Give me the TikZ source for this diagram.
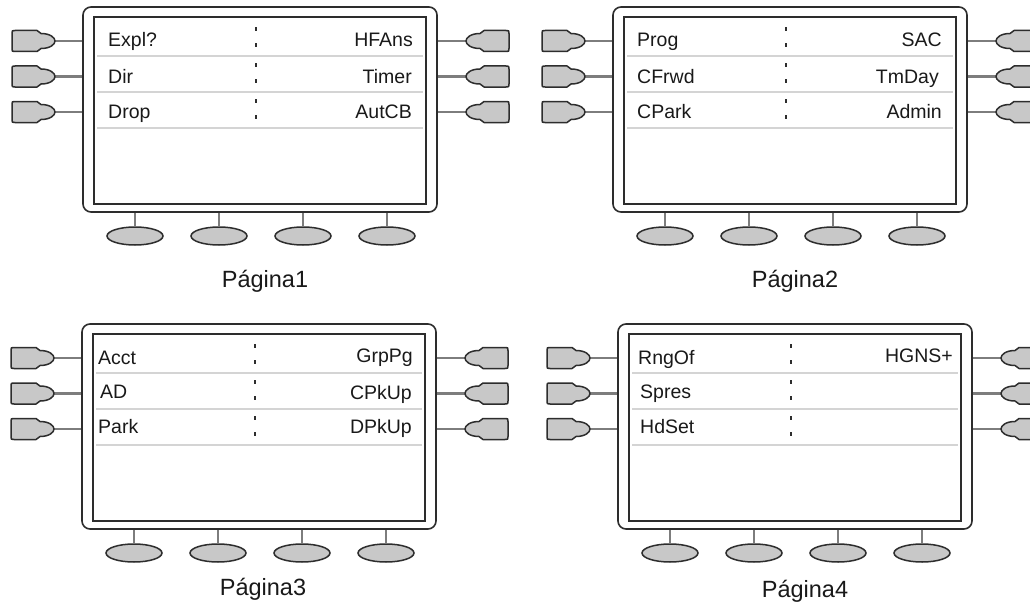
\documentclass[tikz,border=0pt]{standalone}
\usepackage{fontspec}
\setmainfont{Liberation Sans}
\usetikzlibrary{shapes.geometric}
\definecolor{framecol}{RGB}{45,45,45}
\definecolor{btnfill}{RGB}{200,200,200}
\definecolor{conncol}{RGB}{125,125,125}
\definecolor{sepcol}{RGB}{212,212,212}
\definecolor{txtcol}{RGB}{25,25,25}
\tikzset{
  outerframe/.style={draw=framecol, line width=1.6pt, rounded corners=8pt, minimum width=354pt, minimum height=205pt, inner sep=0pt},
  innerframe/.style={draw=framecol, line width=2.2pt, minimum width=332pt, minimum height=187pt, inner sep=0pt},
  sepline/.style={draw=sepcol, line width=1.6pt},
  dotcol/.style={fill=framecol},
  btn/.style={draw=framecol, fill=btnfill, line width=1.5pt, line join=round},
  conn/.style={draw=conncol, line width=2.2pt},
  ebtn/.style={ellipse, draw=framecol, fill=btnfill, line width=1.5pt, minimum width=56pt, minimum height=18pt, inner sep=0pt},
  rowtxt/.style={text=txtcol, inner sep=0pt, font=\fontsize{19.5}{20}\selectfont},
  pagelabel/.style={text=txtcol, inner sep=0pt, anchor=base, font=\fontsize{23.5}{24}\selectfont},
  lbutton/.pic={\draw[btn] (15,-10.5) -- (37,-10.5) -- (41,-7.5) .. controls (50,-7.5) and (55,-3.5) .. (55,0)
      .. controls (55,3.5) and (50,7.5) .. (41,7.5) -- (37,10.5) -- (15,10.5)
      .. controls (12,10.5) .. (12,7.5) -- (12,-7.5) .. controls (12,-10.5) .. (15,-10.5) -- cycle;}
}
\newcommand\phonepanel[3]{%
\begin{scope}[shift={(#2,#3)}]
  \node[outerframe] (#1o) at (260,109.5) {};
  \node[innerframe] (#1i) at (260,110.5) {};
  \foreach \yy in {56,92,128} {\draw[sepline] (97,\yy) -- (423,\yy);}
  \foreach \yy in {20,56,92} {\fill[dotcol] (255,\yy+7) rectangle (257,\yy+11);
                              \fill[dotcol] (255,\yy+23) rectangle (257,\yy+27);}
  \foreach \k/\yy in {1/41,2/76.5,3/112} {
    \coordinate (#1L\k) at (55,\yy);
    \draw[conn] (#1L\k) -- (#1L\k -| #1o.west);
    \pic at (0,\yy) {lbutton};
    \coordinate (#1R\k) at (466,\yy);
    \draw[conn] (#1R\k) -- (#1R\k -| #1o.east);
    \pic[xscale=-1] at (521,\yy) {lbutton};
  }
  \foreach \k/\xx in {1/135,2/219,3/303,4/387} {
    \node[ebtn] (#1B\k) at (\xx,236) {};
    \draw[conn] (#1B\k.north) -- (#1B\k.north |- #1o.south);
  }
\end{scope}}
\begin{document}
\begin{tikzpicture}[x=1pt,y=-1pt]
\clip (0,0) rectangle (1030,602);
\fill[white] (0,0) rectangle (1030,602);
\phonepanel{pa}{0}{0}
\phonepanel{pb}{530}{0}
\phonepanel{pc}{-1}{317}
\phonepanel{pd}{535}{317}
% Panel 1 texts
\node[rowtxt, anchor=base west] (ta1) at (108,47) {Expl?};
\node[rowtxt, anchor=base west] (ta2) at (108,83) {Dir};
\node[rowtxt, anchor=base west] (ta3) at (108,118) {Drop};
\node[rowtxt, anchor=base east] (ta4) at (413,47) {HFAns};
\node[rowtxt, anchor=base east] (ta5) at (412,83) {Timer};
\node[rowtxt, anchor=base east] (ta6) at (412,118) {AutCB};
% Panel 2 texts
\node[rowtxt, anchor=base west] (tb1) at (637,47) {Prog};
\node[rowtxt, anchor=base west] (tb2) at (637,83) {CFrwd};
\node[rowtxt, anchor=base west] (tb3) at (637,118) {CPark};
\node[rowtxt, anchor=base east] (tb4) at (942,47) {SAC};
\node[rowtxt, anchor=base east] (tb5) at (939,83) {TmDay};
\node[rowtxt, anchor=base east] (tb6) at (942,118) {Admin};
% Panel 3 texts
\node[rowtxt, anchor=base west] (tc1) at (98,364) {Acct};
\node[rowtxt, anchor=base west] (tc2) at (100,398) {AD};
\node[rowtxt, anchor=base west] (tc3) at (98,433) {Park};
\node[rowtxt, anchor=base east] (tc4) at (413,362) {GrpPg};
\node[rowtxt, anchor=base east] (tc5) at (412,399) {CPkUp};
\node[rowtxt, anchor=base east] (tc6) at (412,433) {DPkUp};
% Panel 4 texts
\node[rowtxt, anchor=base west] (td1) at (638,364) {RngOf};
\node[rowtxt, anchor=base west] (td2) at (640,398) {Spres};
\node[rowtxt, anchor=base west] (td3) at (640,433) {HdSet};
\node[rowtxt, anchor=base east] (td4) at (953,362) {HGNS+};
% Labels
\node[pagelabel] (la) at (265,287) {Página1};
\node[pagelabel] (lb) at (795,287) {Página2};
\node[pagelabel] (lc) at (263,595) {Página3};
\node[pagelabel] (ld) at (805,597) {Página4};
\end{tikzpicture}
\end{document}
